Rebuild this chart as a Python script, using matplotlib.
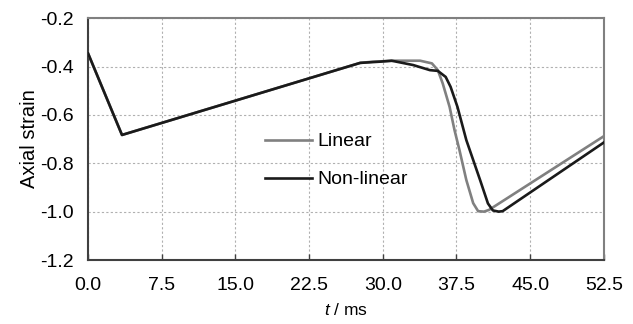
import matplotlib
matplotlib.use("Agg")
import matplotlib.pyplot as plt

plt.rcParams['font.family'] = ['Liberation Sans', 'DejaVu Sans']
plt.rcParams['mathtext.fontset'] = 'custom'
plt.rcParams['mathtext.it'] = 'Liberation Sans:italic'
plt.rcParams['mathtext.rm'] = 'Liberation Sans'
plt.rcParams['axes.unicode_minus'] = False

# data
t_lin = [0, 3.46, 27.7, 29.0, 31.2, 33.0, 33.8, 35.0, 35.6, 36.1, 36.8, 37.3, 37.8,
         38.5, 39.2, 39.7, 40.3, 40.8, 52.5]
y_lin = [-0.345, -0.683, -0.385, -0.380, -0.376, -0.376, -0.376, -0.387, -0.415, -0.47,
         -0.567, -0.663, -0.745, -0.869, -0.965, -0.998, -1.0, -0.993, -0.688]

t_non = [0, 3.46, 27.7, 29.7, 30.9, 33.1, 34.8, 35.6, 36.4, 36.9, 37.6, 38.5, 39.9,
         40.7, 41.2, 41.8, 42.2, 52.5]
y_non = [-0.345, -0.683, -0.385, -0.38, -0.376, -0.394, -0.415, -0.418, -0.443, -0.484,
         -0.567, -0.704, -0.869, -0.966, -0.995, -1.0, -0.998, -0.714]

xticks = [0.0, 7.5, 15.0, 22.5, 30.0, 37.5, 45.0, 52.5]
yticks = [-1.2, -1.0, -0.8, -0.6, -0.4, -0.2]

fig = plt.figure(figsize=(6.33, 3.24), dpi=100)
ax = fig.add_axes([0.139, 0.1975, 0.815, 0.7465])

ax.plot(t_lin, y_lin, color='#808080', lw=1.9, label='Linear', zorder=3)
ax.plot(t_non, y_non, color='#1a1a1a', lw=1.9, label='Non-linear', zorder=4)

ax.set_xlim(0, 52.5)
ax.set_ylim(-1.2, -0.2)
ax.set_xticks(xticks)
ax.set_yticks(yticks)
ax.set_xticklabels(['%.1f' % v for v in xticks])
ax.set_yticklabels(['%.1f' % v for v in yticks])
ax.tick_params(axis='x', direction='in', length=4, width=1, pad=12, labelsize=14, color='#404040')
ax.tick_params(axis='y', direction='in', length=0, pad=10, labelsize=14)

ax.grid(True, color='#b0b0b0', linestyle=(0, (2, 2)), lw=0.8)
ax.set_axisbelow(True)

for side in ['left', 'bottom']:
    ax.spines[side].set_color('#404040')
    ax.spines[side].set_linewidth(1.5)
for side in ['top', 'right']:
    ax.spines[side].set_color('#808080')
    ax.spines[side].set_linewidth(1.5)

ax.set_ylabel('Axial strain', fontsize=14.5, labelpad=1)
ax.set_xlabel('$t$ / ms', fontsize=12.5, labelpad=6)

ax.legend(loc='center left', bbox_to_anchor=(0.343, 0.411), frameon=False,
          fontsize=14, handlelength=2.4, handletextpad=0.3, labelspacing=1.05,
          borderpad=0, borderaxespad=0)

fig.savefig('out.png', dpi=100)
